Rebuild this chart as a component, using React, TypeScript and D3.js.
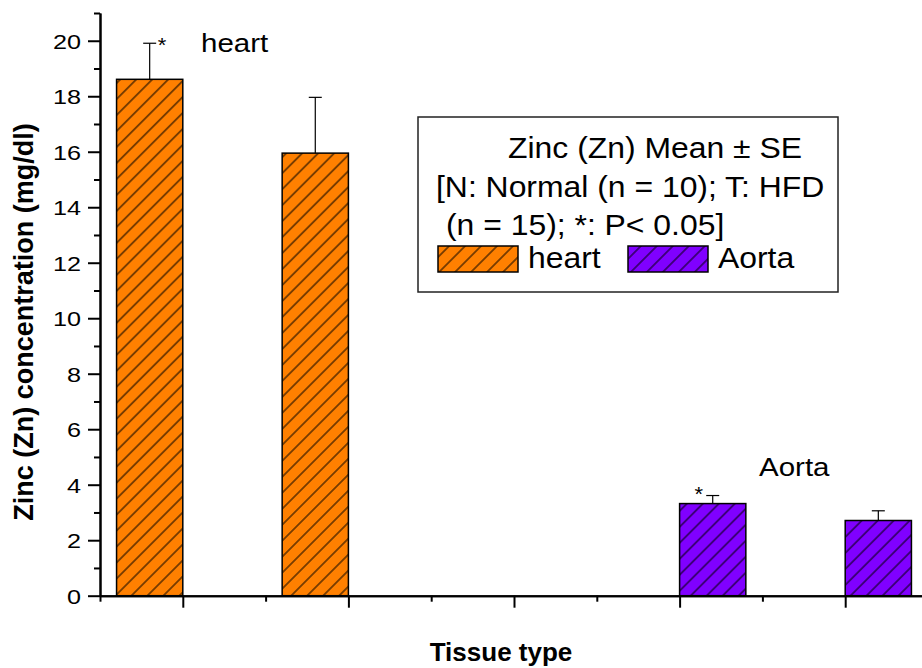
import React, { useEffect, useRef } from "react";
import * as d3 from "d3";

// heart: N (x=1), T (x=2); Aorta: N (x=4), T (x=5)
const heartPos = [1, 2];
const heartMean = [18.61, 15.95];
const heartSE = [1.3, 2.01];
const heartSig = [true, false];

const aortaPos = [4, 5];
const aortaMean = [3.32, 2.71];
const aortaSE = [0.29, 0.35];
const aortaSig = [true, false];

const yMajor = [0, 2, 4, 6, 8, 10, 12, 14, 16, 18, 20];
const yMinor = [1, 3, 5, 7, 9, 11, 13, 15, 17, 19, 21];
const xMajor = [1, 2, 3, 4, 5];
const xMinor = [0.5, 1.5, 2.5, 3.5, 4.5, 5.5];

const legendLines = [
  "Zinc (Zn) Mean \u00b1 SE",
  "[N: Normal (n = 10); T: HFD",
  "(n = 15); *: P< 0.05]",
];

const FONT = "'Liberation Sans', Arial, sans-serif";
const ORANGE = "#FF8000";
const PURPLE = "#8000FF";

const App = () => {
  const svgRef = useRef<SVGSVGElement>(null);

  useEffect(() => {
    const svg = d3.select(svgRef.current);
    svg.selectAll("*").remove();

    const x = d3.scaleLinear().domain([0.5, 5.5]).range([100, 928]);
    const y = d3.scaleLinear().domain([0, 21]).range([595.7, 13]);
    const barW = x(1.4) - x(1);

    // hatch patterns
    const defs = svg.append("defs");
    const hatch = (id: string, color: string) => {
      const s = 11.3;
      const p = defs
        .append("pattern")
        .attr("id", id)
        .attr("patternUnits", "userSpaceOnUse")
        .attr("width", s)
        .attr("height", s)
        .attr("patternTransform", "rotate(45)");
      p.append("rect").attr("width", s).attr("height", s).attr("fill", color);
      p.append("line")
        .attr("x1", s / 2)
        .attr("x2", s / 2)
        .attr("y1", 0)
        .attr("y2", s)
        .attr("stroke", "#000")
        .attr("stroke-width", 1);
    };
    hatch("hatchHeart", ORANGE);
    hatch("hatchAorta", PURPLE);

    const g = svg.append("g").style("font-family", FONT);

    // text helper (glyphs in the original look slightly wider than Arial)
    const label = (
      px: number,
      py: number,
      str: string,
      size: number,
      sx: number,
      anchor = "start",
      weight = "normal"
    ) =>
      g
        .append("text")
        .attr("transform", `translate(${px},${py}) scale(${sx},1)`)
        .attr("text-anchor", anchor)
        .style("font-size", size + "px")
        .style("font-weight", weight)
        .attr("fill", "#000")
        .text(str);

    // bars + error bars
    const drawSeries = (
      pos: number[],
      mean: number[],
      se: number[],
      fill: string,
      left: boolean
    ) => {
      pos.forEach((p, i) => {
        const x0 = left ? x(p) - barW : x(p);
        g.append("rect")
          .attr("x", x0)
          .attr("y", y(mean[i]))
          .attr("width", barW)
          .attr("height", y(0) - y(mean[i]))
          .attr("fill", fill)
          .attr("stroke", "#000")
          .attr("stroke-width", 1.5);
        const cx = x0 + barW / 2;
        g.append("line")
          .attr("x1", cx)
          .attr("x2", cx)
          .attr("y1", y(mean[i]))
          .attr("y2", y(mean[i] + se[i]))
          .attr("stroke", "#000")
          .attr("stroke-width", 1.2);
        g.append("line")
          .attr("x1", cx - 6.5)
          .attr("x2", cx + 6.5)
          .attr("y1", y(mean[i] + se[i]))
          .attr("y2", y(mean[i] + se[i]))
          .attr("stroke", "#000")
          .attr("stroke-width", 1.2);
      });
    };
    drawSeries(heartPos, heartMean, heartSE, "url(#hatchHeart)", true);
    drawSeries(aortaPos, aortaMean, aortaSE, "url(#hatchAorta)", false);

    // significance stars
    heartPos.forEach((p, i) => {
      if (!heartSig[i]) return;
      const cx = x(p) - barW / 2;
      label(cx + 8, y(heartMean[i] + heartSE[i]) + 9, "*", 20, 1.1);
    });
    aortaPos.forEach((p, i) => {
      if (!aortaSig[i]) return;
      const cx = x(p) + barW / 2;
      label(cx - 14, y(aortaMean[i] + aortaSE[i]) + 5, "*", 20, 1.1, "middle");
    });

    // axes
    const yMaj = g
      .append("g")
      .attr("transform", "translate(100,0)")
      .call(
        d3
          .axisLeft(y)
          .tickValues(yMajor)
          .tickSize(12)
          .tickSizeOuter(0)
          .tickPadding(7)
      );
    yMaj.selectAll("text")
      .attr("x", null)
      .attr("dy", "0.36em")
      .attr("transform", "translate(-19,0) scale(1.2,1)")
      .style("font-size", "21px")
      .style("font-family", FONT)
      .attr("fill", "#000");
    g.append("g")
      .attr("transform", "translate(100,0)")
      .call(
        d3
          .axisLeft(y)
          .tickValues(yMinor)
          .tickSize(6)
          .tickSizeOuter(0)
          .tickFormat(() => "")
      );

    g.append("g")
      .attr("transform", `translate(0,${y(0)})`)
      .call(
        d3
          .axisBottom(x)
          .tickValues(xMajor)
          .tickSize(12)
          .tickSizeOuter(0)
          .tickFormat(() => "")
      );
    g.append("g")
      .attr("transform", `translate(0,${y(0)})`)
      .call(
        d3
          .axisBottom(x)
          .tickValues(xMinor)
          .tickSize(6)
          .tickSizeOuter(0)
          .tickFormat(() => "")
      );
    g.selectAll(".domain, .tick line")
      .attr("stroke", "#000")
      .attr("stroke-width", 2);

    // in-plot labels
    label(201, 51.7, "heart", 25, 1.18);
    label(759, 476, "Aorta", 25, 1.18);

    // axis titles
    g.append("text")
      .attr("transform", "translate(33,322) rotate(-90)")
      .attr("text-anchor", "middle")
      .style("font-size", "27px")
      .style("font-weight", "bold")
      .text("Zinc (Zn) concentration (mg/dl)");
    g.append("text")
      .attr("x", 501)
      .attr("y", 661)
      .attr("text-anchor", "middle")
      .style("font-size", "26px")
      .style("font-weight", "bold")
      .text("Tissue type");

    // legend
    const lg = g.append("g");
    lg.append("rect")
      .attr("x", 418)
      .attr("y", 117)
      .attr("width", 420)
      .attr("height", 175)
      .attr("fill", "#fff")
      .attr("stroke", "#222")
      .attr("stroke-width", 1.5);
    label(655, 158, legendLines[0], 29, 1.1, "middle");
    label(436, 197, legendLines[1], 29, 1.1);
    label(446, 235, legendLines[2], 29, 1.1);
    const items = [
      { name: "heart", fill: "url(#hatchHeart)", x0: 438 },
      { name: "Aorta", fill: "url(#hatchAorta)", x0: 628 },
    ];
    items.forEach((it) => {
      lg.append("rect")
        .attr("x", it.x0)
        .attr("y", 246)
        .attr("width", 80)
        .attr("height", 26)
        .attr("fill", it.fill)
        .attr("stroke", "#000")
        .attr("stroke-width", 1.5);
      label(it.x0 + 90, 268, it.name, 29, 1.1);
    });
  }, []);

  return (
    <svg
      ref={svgRef}
      width={922}
      height={668}
      style={{ position: "absolute", left: 0, top: 0, background: "#fff" }}
    ></svg>
  );
};

export default App;
